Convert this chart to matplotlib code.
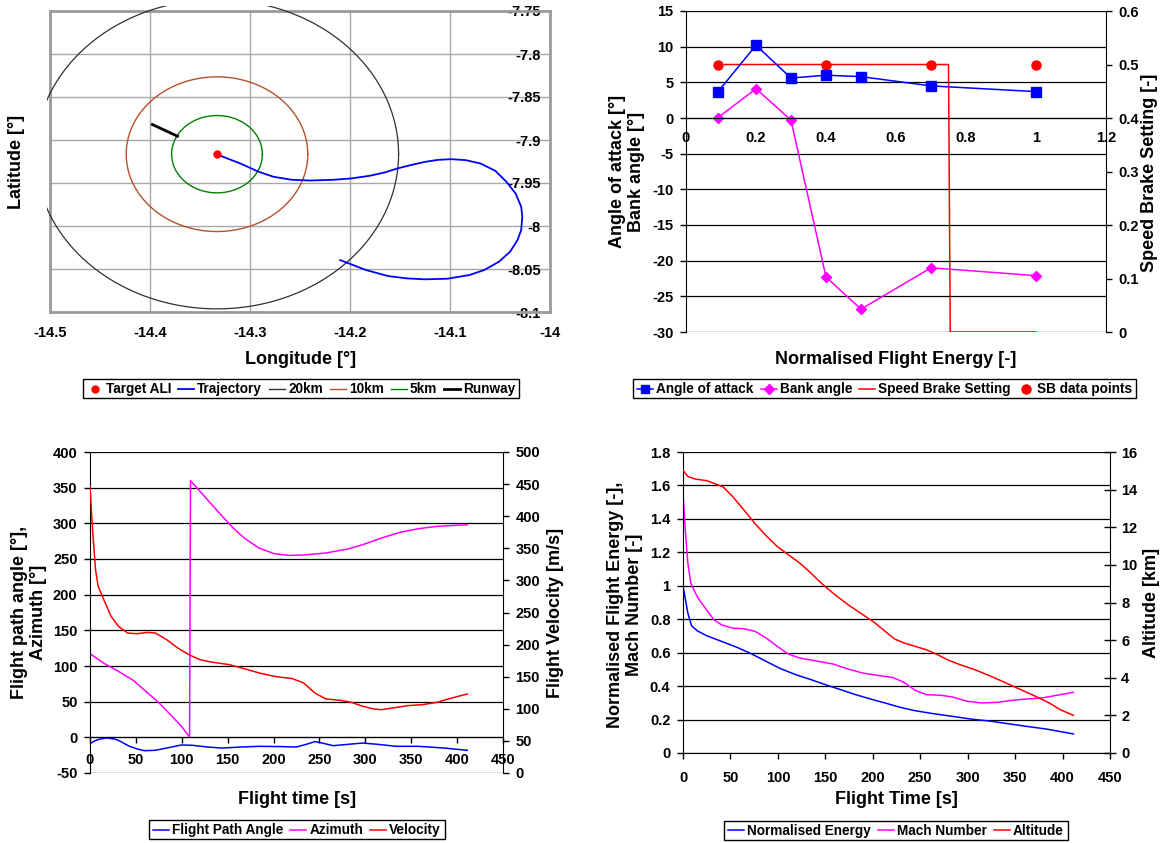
import numpy as np
import matplotlib
matplotlib.use("Agg")
import matplotlib.pyplot as plt
from matplotlib.patches import Rectangle
from matplotlib.lines import Line2D

plt.rcParams["font.family"] = ["Liberation Sans", "DejaVu Sans"]
plt.rcParams["font.weight"] = "bold"
plt.rcParams["axes.unicode_minus"] = False

# ---------------------------------------------------------------- ground track
target_lon, target_lat = -14.333, -7.9165
traj_lon = [-14.3311, -14.3208, -14.3097, -14.2986, -14.2912, -14.2764,
            -14.2579, -14.2395, -14.2173, -14.1988, -14.1803, -14.1656,
            -14.1526, -14.1397, -14.1249, -14.1120, -14.0990, -14.0843,
            -14.0695, -14.0547, -14.0436, -14.0344, -14.0288, -14.0277,
            -14.0288, -14.0325, -14.0399, -14.0510, -14.0658, -14.0806,
            -14.1027, -14.1249, -14.1434, -14.1619, -14.1840, -14.2099]
traj_lat = [-7.9176, -7.9223, -7.9273, -7.9331, -7.9370, -7.9428, -7.9463,
            -7.9471, -7.9463, -7.9447, -7.9416, -7.9378, -7.9331, -7.9293,
            -7.9254, -7.9231, -7.9223, -7.9234, -7.9273, -7.9358, -7.9486,
            -7.9622, -7.9776, -7.9893, -8.0047, -8.0164, -8.0299, -8.0415,
            -8.0512, -8.0570, -8.0613, -8.0620, -8.0609, -8.0582, -8.0512,
            -8.0396]
runway_lon = [-14.3976, -14.3725]
runway_lat = [-7.8820, -7.8956]
ring_km = [20, 10, 5]
ring_names = ["20km", "10km", "5km"]
ring_colors = ["#303030", "#B5502A", "#008000"]
lon_ticks = [-14.5, -14.4, -14.3, -14.2, -14.1, -14.0]
lat_ticks = [-7.75, -7.8, -7.85, -7.9, -7.95, -8.0, -8.05, -8.1]

# ---------------------------------------------------------------- guidance settings
energy_pts = [0.09, 0.2, 0.3, 0.4, 0.5, 0.7, 1.0]
angle_of_attack = [3.6, 10.2, 5.6, 6.0, 5.8, 4.5, 3.7]
bank_angle = [0.0, 4.1, -0.3, -22.3, -26.8, -21.0, -22.1]
sb_line_energy = [0.11, 0.75, 0.755, 1.0]
sb_setting = [0.5, 0.5, 0.0, 0.0]
sb_pts_energy = [0.09, 0.4, 0.7, 1.0]
sb_pts_value = [0.5, 0.5, 0.5, 0.5]

# ---------------------------------------------------------------- flight path history
time_vel = [0, 2.8, 6, 8.9, 15, 23, 31, 41, 51, 63, 71.4, 83.5, 95.6, 107.7,
            119.9, 132, 152, 168, 184.4, 200.6, 220.7, 232.8, 245, 257, 273,
            285, 297.4, 309.5, 317.6, 329.7, 345.8, 362, 378, 394, 411]
velocity = [446.5, 379, 316.7, 290.8, 270, 244, 228.5, 218, 217, 219, 218,
            207.7, 194.7, 184.3, 176.5, 172.9, 168.7, 162.5, 155.8, 150.6,
            146.9, 140.2, 124.6, 115.3, 113.2, 110, 103.8, 99.7, 98.6, 101.2,
            104.9, 106.4, 110, 116.8, 123]
time_az = [0, 15, 31, 47, 63, 75.5, 87.6, 99.7, 108.5, 109.5, 128, 144, 156,
           168, 184, 200.6, 216.7, 232.8, 257, 281, 297, 317.6, 337.8, 358, 378,
           411]
azimuth = [117.3, 104, 92.5, 80, 62, 48, 31.8, 15.4, 0.5, 359.8, 333, 310,
           293.5, 279.4, 265.4, 257.5, 255, 255.6, 258.4, 264, 270, 279.4,
           287.4, 292.5, 295.8, 298]
time_fpa = [0, 5, 10.9, 19, 27, 31, 43, 52, 59, 71, 83.5, 99.7, 111.8, 128,
            144, 164, 184, 208.6, 224.8, 237, 245, 253, 265, 277, 297, 313.5,
            333.7, 358, 386, 411]
flight_path_angle = [-8.9, -5, -2.3, -0.9, -2.5, -4.2, -12.6, -16.5, -18.7,
                     -18.2, -15, -10.7, -11.2, -13.6, -15, -13.6, -12.6, -13,
                     -13.6, -9.3, -6, -8, -11.7, -10.3, -8, -9.8, -12.6, -12.6,
                     -15, -18.2]

# ---------------------------------------------------------------- energy / altitude history
time_alt = [0, 5.1, 13, 24.7, 34.5, 42.4, 52.2, 64, 75.8, 87.6, 99.3, 111, 123,
            134.7, 146.4, 158, 174, 189.6, 201.4, 213, 223, 232.8, 244.6, 256.4,
            268, 280, 291.7, 307.4, 323, 338.8, 354.5, 370, 386, 397.7, 411.5]
altitude = [15.02, 14.7, 14.56, 14.48, 14.3, 14.14, 13.64, 12.93, 12.2, 11.55,
            10.98, 10.54, 10.1, 9.57, 9.0, 8.5, 7.88, 7.35, 6.95, 6.47, 6.06,
            5.85, 5.67, 5.49, 5.23, 4.93, 4.7, 4.43, 4.11, 3.76, 3.4, 3.05,
            2.66, 2.3, 2.0]
time_mach = [0, 2.4, 5.1, 8.2, 13, 16.9, 24.7, 32.6, 40.4, 52.2, 64, 75.8,
             87.6, 99.3, 111, 123, 138.6, 158.2, 174, 189.6, 205, 221, 232.8,
             244.6, 256.4, 272, 283.9, 299.6, 315.3, 331, 346.7, 362.4, 378,
             393.8, 411.5]
mach = [1.555, 1.335, 1.136, 1.017, 0.957, 0.917, 0.857, 0.797, 0.767, 0.747,
        0.743, 0.728, 0.688, 0.638, 0.592, 0.568, 0.552, 0.532, 0.502, 0.478,
        0.464, 0.452, 0.423, 0.375, 0.349, 0.345, 0.335, 0.309, 0.299, 0.303,
        0.315, 0.323, 0.329, 0.345, 0.363]
time_energy = [0, 5.1, 9, 15, 24.7, 40.4, 56, 71.8, 87.6, 103, 119, 134.7, 150,
               166, 181.8, 197.5, 213, 229, 244.6, 264, 283.9, 303.5, 323,
               342.8, 362.4, 382, 411.5]
norm_energy = [1.0, 0.837, 0.761, 0.731, 0.702, 0.668, 0.634, 0.594, 0.548,
               0.504, 0.468, 0.439, 0.409, 0.379, 0.349, 0.323, 0.299, 0.273,
               0.253, 0.235, 0.219, 0.203, 0.191, 0.175, 0.159, 0.144, 0.114]

BLUE, MAGENTA, RED = "#0000FF", "#FF00FF", "#FF0000"
W, H = 1163, 843
fig = plt.figure(figsize=(W / 100, H / 100), dpi=100)
renderer = fig.canvas.get_renderer()

TICK_FS = 10.5
TITLE_FS = 13
LEG_FS = 9.8


def box(x0, y0, x1, y1):
    """Axes rectangle from pixel edges measured from the top-left corner."""
    return [x0 / W, 1 - y1 / H, (x1 - x0) / W, (y1 - y0) / H]


def fx(px):
    return px / W


def fy(py):
    return 1 - py / H


def ftext(x, y, s, **kw):
    fig.text(fx(x), fy(y), s, ha="center", va="center",
             fontweight="bold", fontsize=TITLE_FS, **kw)


def fmt(v):
    return "%g" % v


def legend(entries, cx, cy, handle_len=16, gap=3, spacing=7, pad=4, height=19):
    """Single-row framed key; entries are (line_style, marker_style, label)."""
    texts, widths = [], []
    for _, _, label in entries:
        t = fig.text(0, 0, label, fontsize=LEG_FS, fontweight="bold",
                     ha="left", va="baseline")
        texts.append(t)
        widths.append(t.get_window_extent(renderer).width)
    total = 2 * pad + sum(handle_len + gap + w for w in widths) \
        + spacing * (len(entries) - 1)
    x = cx - total / 2 + pad
    base = cy + 0.36 * LEG_FS * 100 / 72
    for (line_kw, marker_kw, _), t, w in zip(entries, texts, widths):
        if line_kw:
            fig.add_artist(Line2D([fx(x), fx(x + handle_len)], [fy(cy), fy(cy)],
                                  transform=fig.transFigure, **line_kw))
        if marker_kw:
            fig.add_artist(Line2D([fx(x + handle_len / 2)], [fy(cy)], ls="none",
                                  transform=fig.transFigure, **marker_kw))
        t.set_position((fx(x + handle_len + gap), fy(base)))
        x += handle_len + gap + w + spacing
    fig.add_artist(Rectangle((fx(cx - total / 2), fy(cy + height / 2)),
                             total / W, height / H, transform=fig.transFigure,
                             fill=False, edgecolor="black", lw=1))


# ================================================================ panel 1: ground track
ax1 = fig.add_axes(box(50, 11, 550, 312))
ax1.set_xlim(-14.5, -14.0)
ax1.set_ylim(-8.1, -7.75)
ax1.set_xticks(lon_ticks, labels=[fmt(v) for v in lon_ticks])
ax1.yaxis.tick_right()
ax1.set_yticks(lat_ticks, labels=[fmt(v) for v in lat_ticks], ha="right")
ax1.tick_params(axis="x", length=0, pad=10, labelsize=TICK_FS)
ax1.tick_params(axis="y", length=0, pad=-6.5, labelsize=TICK_FS)
ax1.grid(True, color="#A8A8A8", lw=1.0)
ax1.set_axisbelow(True)
for s in ax1.spines.values():
    s.set_color("#9A9A9A")
    s.set_linewidth(2)

theta = np.linspace(0, 2 * np.pi, 361)
km_per_deg = 111.2
for km, col in zip(ring_km, ring_colors):
    r_lat = km / km_per_deg
    r_lon = r_lat / np.cos(np.radians(target_lat))
    (ln,) = ax1.plot(target_lon + r_lon * np.cos(theta),
                     target_lat + r_lat * np.sin(theta),
                     color=col, lw=0.9 if km == 20 else 1.0, zorder=3)
    ln.set_clip_path(Rectangle((-14.5026, -8.11), 0.52, 0.3655,
                               transform=ax1.transData))
ax1.plot(traj_lon, traj_lat, color=BLUE, lw=1.3, zorder=4)
ax1.plot(runway_lon, runway_lat, color="black", lw=2.0, zorder=4)
ax1.plot([target_lon], [target_lat], "o", color=RED, ms=5, zorder=5)

ftext(301, 359, "Longitude [°]")
ftext(17, 162, "Latitude [°]", rotation=90)
legend([(None, dict(marker="o", color=RED, ms=5), "Target ALI"),
        (dict(color=BLUE, lw=1.3), None, "Trajectory")]
       + [(dict(color=c, lw=1.0), None, n) for c, n in zip(ring_colors, ring_names)]
       + [(dict(color="black", lw=2.0), None, "Runway")],
       301, 388.5)

# ================================================================ panel 2: guidance settings
ax2 = fig.add_axes(box(686, 11, 1106, 332))
ax2.set_xlim(0, 1.2)
ax2.set_ylim(-30, 15)
xt2 = [0, 0.2, 0.4, 0.6, 0.8, 1.0, 1.2]
ax2.set_xticks(xt2, labels=[fmt(v) for v in xt2])
yt2 = list(range(-30, 16, 5))
ax2.set_yticks(yt2, labels=[fmt(v) for v in yt2])
ax2.spines["bottom"].set_position(("data", 0))
ax2.spines["top"].set_visible(False)
ax2.spines["right"].set_visible(False)
ax2.tick_params(axis="x", length=0, pad=9, labelsize=TICK_FS)
ax2.tick_params(axis="y", direction="out", length=4, width=1, pad=5,
                labelsize=TICK_FS)
ax2.grid(True, axis="y", color="black", lw=0.9)
ax2.set_axisbelow(True)

ax2r = ax2.twinx()
ax2r.set_ylim(0, 0.6)
yt2r = [0, 0.1, 0.2, 0.3, 0.4, 0.5, 0.6]
ax2r.set_yticks(yt2r, labels=[fmt(v) for v in yt2r])
for side in ("top", "bottom", "left"):
    ax2r.spines[side].set_visible(False)
ax2r.tick_params(axis="y", direction="out", length=4, width=1, pad=5,
                 labelsize=TICK_FS)

ax2r.plot(sb_line_energy, sb_setting, color=RED, lw=1.1)
ax2r.plot(sb_pts_energy, sb_pts_value, "o", color=RED, ms=6.5)
ax2.plot(energy_pts, angle_of_attack, color=BLUE, lw=1.1, marker="s", ms=6.5)
ax2.plot(energy_pts, bank_angle, color=MAGENTA, lw=1.1, marker="D", ms=5)
ax2.set_zorder(ax2r.get_zorder() + 1)
ax2.patch.set_visible(False)

ftext(896, 359, "Normalised Flight Energy [-]")
ftext(627, 171.5, "Angle of attack [°]\nBank angle [°]", rotation=90,
      linespacing=1.15)
ftext(1149, 173, "Speed Brake Setting [-]", rotation=90)
legend([(dict(color=BLUE, lw=1.1), dict(marker="s", color=BLUE, ms=6), "Angle of attack"),
        (dict(color=MAGENTA, lw=1.1), dict(marker="D", color=MAGENTA, ms=5), "Bank angle"),
        (dict(color=RED, lw=1.1), None, "Speed Brake Setting"),
        (None, dict(marker="o", color=RED, ms=6.5), "SB data points")],
       884.5, 388.5)

# ================================================================ panel 3: flight path history
ax3 = fig.add_axes(box(90, 452, 503, 773))
ax3.set_xlim(0, 450)
ax3.set_ylim(-50, 400)
xt3 = list(range(0, 451, 50))
ax3.set_xticks(xt3, labels=[fmt(v) for v in xt3])
yt3 = list(range(-50, 401, 50))
ax3.set_yticks(yt3, labels=[fmt(v) for v in yt3])
ax3.spines["bottom"].set_position(("data", 0))
ax3.spines["top"].set_visible(False)
ax3.spines["right"].set_visible(False)
ax3.tick_params(axis="x", direction="out", length=4, width=1, pad=7,
                labelsize=TICK_FS)
ax3.tick_params(axis="y", direction="out", length=4, width=1, pad=5,
                labelsize=TICK_FS)
ax3.grid(True, axis="y", color="black", lw=0.9)
ax3.set_axisbelow(True)

ax3r = ax3.twinx()
ax3r.set_ylim(0, 500)
yt3r = list(range(0, 501, 50))
ax3r.set_yticks(yt3r, labels=[fmt(v) for v in yt3r])
for side in ("top", "bottom", "left"):
    ax3r.spines[side].set_visible(False)
ax3r.tick_params(axis="y", direction="out", length=4, width=1, pad=5,
                 labelsize=TICK_FS)

ax3r.plot(time_vel, velocity, color=RED, lw=1.1)
ax3.plot(time_fpa, flight_path_angle, color=BLUE, lw=1.1)
ax3.plot(time_az, azimuth, color=MAGENTA, lw=1.1)

ftext(297, 800, "Flight time [s]")
ftext(29, 612, "Flight path angle [°],\nAzimuth [°]", rotation=90,
      linespacing=1.15)
ftext(556, 613, "Flight Velocity [m/s]", rotation=90)
legend([(dict(color=BLUE, lw=1.1), None, "Flight Path Angle"),
        (dict(color=MAGENTA, lw=1.1), None, "Azimuth"),
        (dict(color=RED, lw=1.1), None, "Velocity")],
       297, 829.5)

# ================================================================ panel 4: energy / altitude history
ax4 = fig.add_axes(box(683, 452, 1110, 753))
ax4.set_xlim(0, 450)
ax4.set_ylim(0, 1.8)
xt4 = list(range(0, 451, 50))
ax4.set_xticks(xt4, labels=[fmt(v) for v in xt4])
yt4 = [0, 0.2, 0.4, 0.6, 0.8, 1.0, 1.2, 1.4, 1.6, 1.8]
ax4.set_yticks(yt4, labels=[fmt(v) for v in yt4])
ax4.spines["top"].set_visible(False)
ax4.spines["right"].set_visible(False)
ax4.tick_params(axis="x", direction="out", length=4, width=1, pad=9,
                labelsize=TICK_FS)
ax4.tick_params(axis="y", direction="out", length=4, width=1, pad=5,
                labelsize=TICK_FS)
ax4.grid(True, axis="y", color="black", lw=0.9)
ax4.set_axisbelow(True)

ax4r = ax4.twinx()
ax4r.set_ylim(0, 16)
yt4r = list(range(0, 17, 2))
ax4r.set_yticks(yt4r, labels=[fmt(v) for v in yt4r])
for side in ("top", "bottom", "left"):
    ax4r.spines[side].set_visible(False)
ax4r.tick_params(axis="y", direction="inout", length=8, width=1, pad=4,
                 labelsize=TICK_FS)

ax4r.plot(time_alt, altitude, color=RED, lw=1.1)
ax4.plot(time_energy, norm_energy, color=BLUE, lw=1.1)
ax4.plot(time_mach, mach, color=MAGENTA, lw=1.1)

ftext(896, 800, "Flight Time [s]")
ftext(625, 605, "Normalised Flight Energy [-],\nMach Number [-]", rotation=90,
      linespacing=1.15)
ftext(1151, 603, "Altitude [km]", rotation=90)
legend([(dict(color=BLUE, lw=1.1), None, "Normalised Energy"),
        (dict(color=MAGENTA, lw=1.1), None, "Mach Number"),
        (dict(color=RED, lw=1.1), None, "Altitude")],
       896, 830)

fig.savefig("out.png", dpi=100)
